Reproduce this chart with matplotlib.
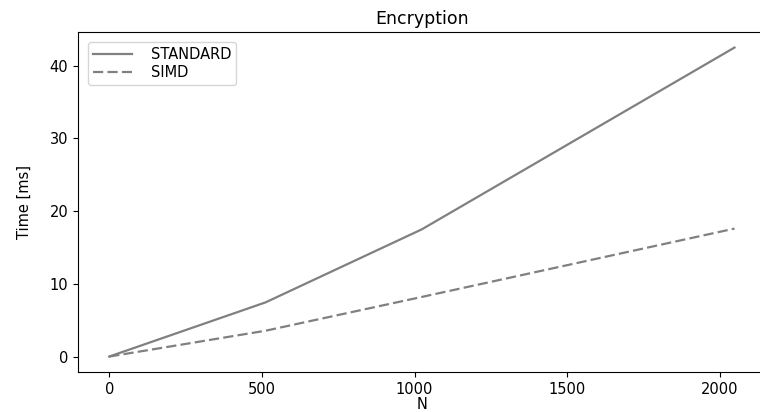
import matplotlib
matplotlib.use("Agg")
import matplotlib.pyplot as plt

# Encryption timing for the two implementations
n_values = [0, 512, 1024, 2048]
standard_ms = [0.0, 7.45, 17.5, 42.5]
simd_ms = [0.0, 3.55, 8.2, 17.6]

plt.rcParams["font.family"] = ["DejaVu Sans"]

fig = plt.figure(figsize=(7.6, 4.12), dpi=100)
ax = fig.add_axes([0.1026, 0.0971, 0.905, 0.825])

ax.plot(n_values, standard_ms, color="gray", lw=1.6, label="STANDARD")
ax.plot(n_values, simd_ms, color="gray", lw=1.6, ls=(0, (4.6, 1.9)), label="SIMD")

# the right-hand frame edge falls outside the canvas
ax.spines["right"].set_visible(False)

ax.set_xticks([0, 500, 1000, 1500, 2000])
ax.set_yticks([0, 10, 20, 30, 40])
ax.tick_params(labelsize=10.5)
ax.set_title("Encryption", fontsize=12.5)
ax.set_xlabel("N", fontsize=10.5, labelpad=0)
ax.set_ylabel("Time [ms]", fontsize=10.5, labelpad=13)
ax.legend(loc="upper left", fontsize=10.5, handlelength=2.7,
          handletextpad=1.3, labelspacing=0.25, borderpad=0.3,
          borderaxespad=0.7)

fig.savefig("out.png", dpi=100)
